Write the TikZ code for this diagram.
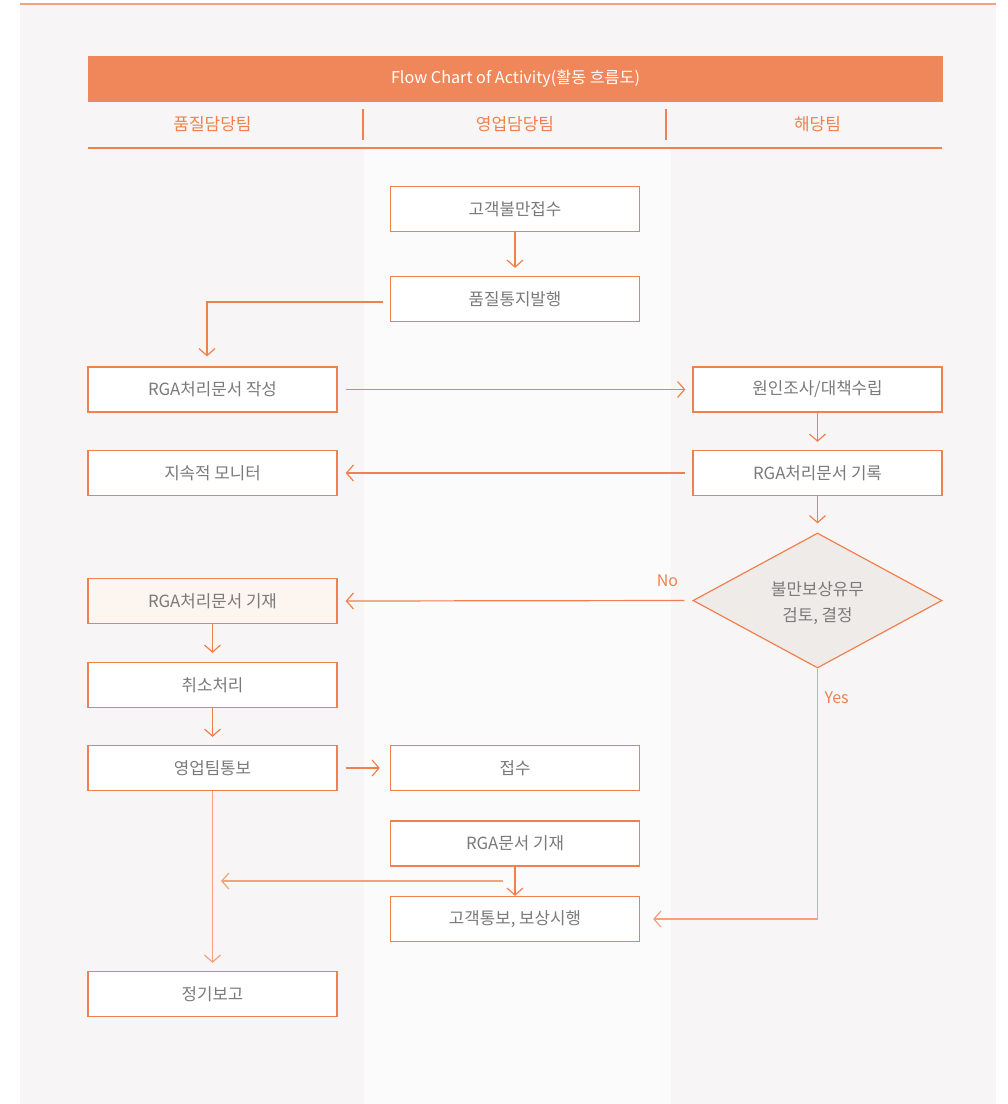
\documentclass[tikz,border=0pt]{standalone}
\usepackage{fontspec}
\setmainfont{Noto Sans CJK KR}
\usetikzlibrary{arrows.meta,shapes.geometric}
\definecolor{org}{HTML}{F0814F}
\definecolor{orgl}{HTML}{F4A27C}
\definecolor{hdrc}{HTML}{F0875A}
\definecolor{panelc}{HTML}{F7F5F5}
\definecolor{midc}{HTML}{FCFBFB}
\definecolor{txtc}{HTML}{7A7A7A}
\definecolor{peach}{HTML}{FDF5EF}
\definecolor{diac}{HTML}{EFEBE8}
\tikzset{
  box/.style={draw=org, line width=1.3pt, fill=white, minimum width=249pt, minimum height=45pt, inner sep=0pt, text=txtc, font=\fontsize{16.8}{18}\selectfont},
  dia/.style={diamond, draw=org, line width=1.2pt, fill=diac, minimum width=249pt, minimum height=135pt, inner sep=0pt},
  diatext/.style={text=txtc, font=\fontsize{16.8}{26}\selectfont, align=center},
  colhead/.style={text=org, font=\fontsize{17}{18}\selectfont},
  lbl/.style={text=org, font=\fontsize{16}{18}\selectfont},
  arr/.style={draw=org, line width=1.2pt, -{Straight Barb[length=7pt,width=16pt,line width=1.2pt]}},
  arrl/.style={draw=orgl, line width=1.4pt, -{Straight Barb[length=7pt,width=16pt,line width=1.2pt]}},
}
\begin{document}
\begin{tikzpicture}[x=1pt,y=-1pt]
\useasboundingbox (0,0) rectangle (1008,1104);
\fill[white] (0,0) rectangle (1008,1104);
\fill[panelc] (20,4) rectangle (996,1104);
\fill[midc] (364,149) rectangle (671,1104);
\draw[orgl, line width=2pt] (20,4) -- (996,4);
% header
\fill[hdrc] (88,56) rectangle (943,102);
\node[text=white, font=\fontsize{16.2}{18}\selectfont] (title) at (515.5,79) {Flow Chart of Activity(활동 흐름도)};
\node[colhead] (h1) at (212.5,124) {품질담당팀};
\node[colhead] (h2) at (515,124) {영업담당팀};
\node[colhead] (h3) at (817.5,124) {해당팀};
\draw[org, line width=2pt] (363,109) -- (363,140);
\draw[org, line width=2pt] (666,109) -- (666,140);
\draw[org, line width=2.2pt] (88,148) -- (942,148);
% nodes
\node[box] (a1) at (515,209) {고객불만접수};
\node[box] (a2) at (515,299) {품질통지발행};
\node[box] (b1) at (212.5,389.5) {RGA처리문서 작성};
\node[box] (c1) at (817.5,389.5) {원인조사/대책수립};
\node[box] (b2) at (212.5,473) {지속적 모니터};
\node[box] (c2) at (817.5,473) {RGA처리문서 기록};
\node[dia] (d) at (817.5,600.5) {};
\node[diatext] (dt) at (817.5,603) {불만보상유무\\검토, 결정};
\node[box, fill=peach] (b3) at (212.5,601) {RGA처리문서 기재};
\node[box] (b4) at (212.5,685) {취소처리};
\node[box] (b5) at (212.5,768) {영업팀통보};
\node[box] (a3) at (515,768) {접수};
\node[box] (a4) at (515,843.5) {RGA문서 기재};
\node[box] (a5) at (515,919) {고객통보, 보상시행};
\node[box] (b6) at (212.5,994) {정기보고};
\coordinate (j1) at (503,881);
\coordinate (j2) at (221,881);
% connectors
\draw[arr, shorten >=8pt] (a1.south) -- (a2.north);
\draw[arr] ([xshift=-7pt,yshift=-3pt]a2.west) -| ([xshift=-5.5pt,yshift=10pt]b1.north);
\draw[arr] ([xshift=8pt]b1.east) -- ([xshift=-7pt]c1.west);
\draw[arr, shorten >=8pt] (c1.south) -- (c2.north);
\draw[arr] ([xshift=-7pt]c2.west) -- ([xshift=8pt]b2.east);
\draw[arr, shorten >=9pt] (c2.south) -- (d.north);
\draw[arr] ([xshift=-8pt]d.west) -- node[lbl, pos=0.05, above=10pt] (no) {No} ([xshift=8pt]b3.east);
\draw[arrl] (d.south) |- node[lbl, pos=0.058, right=3pt] (yes) {Yes} ([xshift=13pt]a5.east);
\draw[arr, shorten >=9pt] (b3.south) -- (b4.north);
\draw[arr, shorten >=8pt] (b4.south) -- (b5.north);
\draw[arr] ([xshift=8pt]b5.east) -- ([xshift=-10pt]a3.west);
\draw[arrl, shorten >=8pt] (b5.south) -- (b6.north);
\draw[arr] (a4.south) -- (a5.north);
\draw[arrl] (j1) -- (j2);
\end{tikzpicture}
\end{document}
